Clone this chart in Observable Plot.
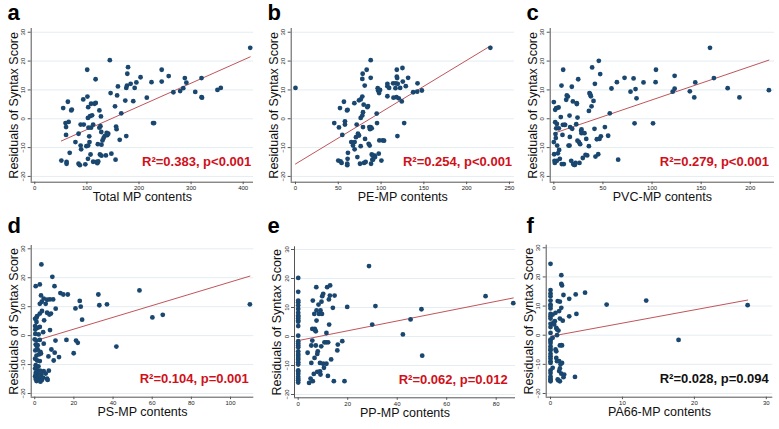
<!DOCTYPE html>
<html><head><meta charset="utf-8">
<script src="https://cdn.jsdelivr.net/npm/d3@7"></script>
<script src="https://cdn.jsdelivr.net/npm/@observablehq/plot@0.6"></script>
<style>
body{margin:0;background:#fff;font-family:"Liberation Sans",Arial,sans-serif;}
#grid{position:relative;width:779px;height:429px;overflow:hidden;}
.panel{position:absolute;}
.panel svg{overflow:visible;}
</style></head><body><div id="grid"></div>
<script>
// ---- data ----
const letters = ["a","b","c","d","e","f"];
const xLabels = ["Total MP contents","PE-MP contents","PVC-MP contents","PS-MP contents","PP-MP contents","PA66-MP contents"];
const statLabels = ["R\u00b2=0.383, p<0.001","R\u00b2=0.254, p<0.001","R\u00b2=0.279, p<0.001","R\u00b2=0.104, p=0.001","R\u00b2=0.062, p=0.012","R\u00b2=0.028, p=0.094"];
const yLabel = "Residuals of Syntax Score";
const yTicks = [-20,-10,0,10,20,30];
const xTicksA = [0,100,200,300,400];
const xTicksB = [0,50,100,150,200,250];
const xTicksC = [0,50,100,150,200];
const xTicksD = [0,20,40,60,80,100];
const xTicksE = [0,20,40,60,80];
const xTicksF = [0,10,20,30];

const aX = [51,54.5,59,60,60,61,61,63.5,65,67,70,71,78,84,84,86.5,88,88,89,93,94,97,99,100.6,101,102,102.5,102.5,103,102,104.5,105,106,108,108,107,110,112,112,114.7,116.7,117,118.6,120,121,121.8,124,124,125,126,127,127.6,128,128,130,132,134,136.5,138,139,141,144,145.5,147,154,155,156,157,158,159.6,163,166,173.7,175.6,175.6,177,177.6,179,184,189,191.7,195,203,215,224,227,229,243.6,243.6,257,266,279,285,288,291,308,320,320,321,350.6,357,413.5];
const aY = [-14.5,3.7,-1.5,-2.9,-5.6,-15,-15.6,5.9,-1.1,-11.8,2.9,3.2,-8.1,-5.2,-15.6,-16.1,-2,-9.3,-10.6,6.7,-2,-15.8,-9.5,17,7.7,0.3,4,-9.3,-3.1,-13.9,-6.1,-8.1,0.9,5.2,-3.1,-12.4,1.2,-2,-14.9,5.2,13.7,5.5,-15,-15.4,-8.8,-14.8,2.9,-3.1,-12.4,-2.6,0.8,-4.6,-9,-12.8,-7.5,-6.7,-6,-12.7,-4.9,-5.7,-5.2,20.3,8.9,-12.1,4.3,-14.2,-2.7,-3.6,8.1,11.2,-7.3,1.9,6.3,-6,10.7,11.5,15.6,17.9,12.1,6.1,10.7,12.6,14.4,7.3,12.7,-1.5,-1.5,17,12.9,14.8,9.2,9.6,10.6,14.1,12.5,9.3,14.1,7.5,7.3,10,10.7,24.6];

const bX = [45.3,50.8,52.0,50.0,52.7,53.9,54.7,56.6,57.8,57.8,60.2,60.9,61.3,60.9,60.5,60.5,65.2,67.2,68.8,69.1,69.1,70.7,71.5,72.3,73.0,74.2,74.2,75.4,76.2,76.2,76.2,78.1,78.5,78.1,78.1,78.9,78.9,79.7,80.1,80.9,81.3,82.0,83.2,84.0,84.8,85.5,86.3,86.7,87.1,87.9,87.9,87.9,88.3,89.1,89.1,89.8,90.2,90.6,91.8,92.6,93.0,94.9,95.3,96.1,96.5,97.3,97.7,98.0,98.8,100.4,102.0,103.5,107.4,107.4,107.4,109.4,114.1,114.5,116.8,117.2,118.0,118.4,118.4,118.8,119.1,119.5,120.7,122.3,124.2,125.0,125.4,127.0,128.9,131.6,137.5,142.2,142.6,147.7,227.7,0];
const bY = [-1.5,-3.0,3.7,-14.5,-14.8,-15.3,-5.6,5.9,-0.9,-2.0,2.9,3.1,-11.8,-13.9,-15.6,-16.1,-8.1,-9.3,5.4,-10.6,-8.1,-6.4,-2.0,-13.3,-5.2,6.4,-5.8,-15.6,-9.5,0.3,6.7,13.8,15.6,7.7,1.1,-2.9,2.3,4.9,-15.3,11.5,-7.0,-15.0,17.0,4.0,4.4,-8.7,-2.9,-9.3,-3.6,20.3,14.2,-2.9,-15.6,-3.3,-12.4,-14.2,-12.7,-14.2,-13.1,-12.8,-13.3,1.8,-1.5,10.6,9.8,-12.1,8.9,-7.5,10.0,-14.5,-7.5,-7.6,7.8,12.1,11.3,10.7,12.3,7.3,10.6,12.3,7.5,17.0,14.6,14.1,-6.0,12.1,7.1,10.7,6.0,17.6,12.9,-1.5,11.3,14.2,9.2,9.4,12.3,9.8,24.6,10.7];

const cX = [0,0,0.3,0.7,1.0,1.4,1.4,1.7,2.0,2.4,2.4,3.1,3.1,3.4,4.1,4.8,5.1,5.4,6.1,7.1,7.8,8.1,8.8,9.2,9.5,10.2,10.9,11.5,12.6,13.2,14.3,15.0,16.0,16.0,16.3,16.6,17.7,18.3,18.7,19.4,19.7,20.7,21.4,22.1,22.8,23.4,23.4,24.1,24.1,24.8,25.5,26.1,26.8,27.8,28.2,28.2,29.5,31.2,32.3,33.0,34.0,35.7,35.7,36.3,37.0,37.7,38.4,39.0,40.4,41.4,41.8,42.4,43.8,45.2,45.8,46.5,47.2,47.9,52.0,55.3,57.0,58.7,64.2,65.5,72.0,78.1,81.2,82.2,83.2,84.2,91.3,101,103.6,104,121,123,123,138.5,143,144,159,163,177,189,219];
const cY = [5.8,-8.1,-12.3,-14.6,-15.3,3.1,-1.2,-5.3,-6.7,3.7,-3.3,-1.8,-14.6,-9.3,-12.0,3.9,-3.3,-10.8,-13.9,0.6,11.5,-15.7,-5.6,-2.1,17.0,-15.7,-2.1,-2.1,6.6,8.1,7.7,-9.3,1.1,-9.3,-6.3,-2.9,-14.6,11.1,-3.5,6.0,-15.7,-16.0,-16.0,-15.3,-1.9,5.4,5.1,0.4,-7.6,13.7,-8.1,-15.3,-8.8,-4.2,-3.7,-5.0,-13.6,-5.0,-12.5,-7.0,-12.7,2.7,-9.5,8.9,8.5,7.8,4.3,17.8,6.2,-3.5,12.1,-13.1,-7.1,-12.3,20.1,-7.0,15.5,-6.1,-2.9,-5.9,1.9,10.5,12.7,-14.2,14.2,9.4,14.0,-1.6,10.3,7.1,12.6,-1.6,12.7,17.0,9.4,10.4,14.9,9.5,7.4,12.6,24.6,14.1,10.6,7.4,9.9];

const dX = [3.4,9.0,0.5,2.6,10.1,13.1,14.6,16.9,3.2,4.6,6.3,7.7,9.4,23.0,32.5,53.5,2.6,3.6,5.6,10.7,20.8,23.5,33,36.9,0.9,0.2,1.2,2.6,3.7,6.3,7.5,8.3,4.8,24.2,60.1,65.4,109.9,0.9,0.2,1.5,2.6,7.8,4.3,0.3,2.0,0,0.9,2.6,10.6,16.2,21.1,22.0,0.5,1.5,4.6,41.7,0.3,1.5,2.9,8.5,10.2,19.9,0.9,2.2,7.0,12.4,0.2,1.2,2.6,9.7,0.5,1.9,0.2,1.2,2.7,4.6,7.2,0.5,1.5,3.4,5.6,0.2,1.2,2.6,4.3,6.3,0.5,1.9,3.6,6.6,0.9,2.9,0.3,1.0,3.2];
const dY = [24.6,20.3,17.1,17.7,17.1,14.7,14.2,14.2,13.9,12.8,12.4,12.5,12.5,12.0,14.2,15.6,11.0,11.7,11.0,9.3,9.4,10.0,10.5,10.8,6.2,5.8,6.7,7.6,8.5,7.9,7.3,7.6,5.3,5.5,6.3,7.2,10.8,4.7,3.3,2.7,3.0,1.9,1.2,0.6,0.4,-1.3,-1.7,-1.5,-1.7,-1.5,-1.7,-2.5,-3.1,-3.3,-2.8,-3.8,-5.1,-4.8,-5.6,-4.8,-5.9,-6.1,-6.9,-6.5,-7.2,-7.4,-8.0,-8.6,-8.8,-8.6,-10.2,-10.6,-11.4,-11.9,-12.1,-12.3,-12.1,-12.9,-13.2,-13.4,-13.1,-14.0,-14.4,-14.4,-14.6,-14.9,-15.0,-15.3,-15.4,-15.3,-15.7,-15.9,2.1,-3.6,-6.2];

const eX = [0,0,0,0,0,0,0,0,0,0,0,0,0,0,0,0,0,0,0,0,0,0,0,0,0,0,0,0,0,0,0,0,28.6,19.8,31.2,29.9,45.4,42.3,49.8,50.1,75.7,86.9,3.8,4.4,5.0,5.3,5.3,5.7,5.7,5.9,5.9,6.3,6.5,6.6,6.7,6.9,7.1,7.1,7.3,7.4,7.4,7.7,7.7,7.9,8.2,8.4,8.8,8.8,9.0,9.0,9.3,9.4,9.6,9.7,10.1,10.1,10.4,10.6,11.3,11.4,11.4,11.7,12.0,12.1,12.4,12.5,12.8,12.9,13.3,14.0,14.4,14.7,15.8,16.0,17.8,18.7];
const eY = [20.2,15.4,12.4,11.8,10.7,9.5,8.2,7.2,6.8,6.2,5.5,5.1,3.6,0.3,-1.6,-2.4,-3.1,-3.7,-5.1,-6.0,-6.6,-7.4,-8.0,-8.9,-9.7,-11.7,-12.2,-12.9,-13.9,-14.6,-15.1,-15.9,24.3,10.2,10.5,4.1,5.9,0.7,9.4,-6.6,13.9,11.5,-5.6,-16.0,-14.5,-3.1,-9.1,-1.4,2.6,12.4,-15.4,-12.9,7.8,-7.4,2.6,2.1,1.8,-3.1,17.0,9.0,5.5,-6.0,-12.2,-5.1,11.0,7.8,-9.1,-12.0,9.0,-13.1,-3.4,12.0,7.8,13.9,14.7,-9.4,-10.8,-2.0,-2.0,1.2,-9.4,17.0,-13.6,-2.0,12.8,4.1,14.1,17.6,-7.9,9.9,-15.4,14.1,-4.8,-2.8,-1.6,-15.4];

const fX = [0,0,0,0,0,0,0,0,0,0,0,0,0,0,0,0,0,0,0,0,0,0,0,0,0,0,0,0,0,0,0,0.3,0.3,0.3,0.4,0.5,0.6,0.7,0.7,0.8,0.8,0.8,0.9,0.9,0.9,1.0,1.0,1.1,1.1,1.2,1.2,1.2,1.3,1.3,1.3,1.3,1.3,1.4,1.5,1.5,1.5,1.5,1.5,1.6,1.6,1.6,1.7,1.8,1.8,1.9,2.6,2.6,3.5,3.6,3.4,4.8,7.8,13.3,17.8,27.4];
const fY = [24.5,15.5,14.3,13.4,11.9,10.5,10.0,9.2,7.3,6.5,5.7,3.9,2.8,0.8,-1.5,-2.0,-2.7,-3.8,-4.7,-5.2,-6.4,-7.2,-8.0,-8.9,-9.5,-12.1,-13.0,-14.2,-14.9,-15.4,-15.8,7.1,-0.9,-11.2,4.3,3.7,4.8,7.7,-4.9,2.5,-5.5,-7.8,0.0,2.0,-8.9,-15.2,11.7,1.6,-15.5,8.3,-8.9,-12.3,5.7,-11.4,-15.8,11.5,-3.5,-10.0,20.6,9.4,-3.4,17.6,-13.2,17.1,-3.5,-9.5,5.0,13.8,-14.4,-13.5,12.5,6.5,14.0,7.3,-14.3,14.6,10.5,11.9,-1.6,10.3];

// ---- layout / style ----
const seriesX = [aX,bX,cX,dX,eX,fX];
const seriesY = [aY,bY,cY,dY,eY,fY];
const xTicks = [xTicksA,xTicksB,xTicksC,xTicksD,xTicksE,xTicksF];
const statColors = ["#d0101a","#d0101a","#d0101a","#d0101a","#d0101a","#111111"];
const cfg = [
  {left:0,   top:0,   h:214, m:[28,7,32.3,30.7],   xd:[-6.9,419.8], yd:[-22,31.3],     sdx:-2.3, sdy:-16, ldy:19.5},
  {left:260, top:0,   h:214, m:[28,6.1,32.3,30.7], xd:[-5,255.8],   yd:[-22,31.3],     sdx:-2.3, sdy:-16, ldy:19.5},
  {left:519, top:0,   h:214, m:[28,5,32.3,30.7],   xd:[-3.7,224.7], yd:[-22,31.3],     sdx:-5.5, sdy:-16, ldy:19.5},
  {left:0,   top:214, h:215, m:[31,6.7,32.3,30.7], xd:[-1.8,111.9], yd:[-21.28,31.14], sdx:-5,   sdy:-14.4, ldy:18.3},
  {left:260, top:214, h:215, m:[32.3,5,31.7,34],   xd:[-1.5,87.8],  yd:[-21.14,30.93], sdx:-7.7, sdy:-14.3, ldy:18.3},
  {left:519, top:214, h:215, m:[30.7,6.7,32.3,26.7], xd:[-0.6,30.9], yd:[-21.27,30.89], sdx:-4,   sdy:-14.4, ldy:18.3}
];

const grid = document.getElementById("grid");
cfg.forEach((c, i) => {
  const data = seriesX[i].map((x, j) => ({x, y: seriesY[i][j]}));
  const [mt, mr, mb, ml] = c.m;
  const chart = Plot.plot({
    width: 260, height: c.h,
    marginTop: mt, marginRight: mr, marginBottom: mb, marginLeft: ml,
    x: {domain: c.xd},
    y: {domain: c.yd},
    style: {fontFamily: "'Liberation Sans', Arial, sans-serif", background: "transparent", color: "#222"},
    marks: [
      Plot.gridY(yTicks, {stroke: "#e4edf1", strokeOpacity: 1}),
      Plot.ruleX([c.xd[0]], {stroke: "#555", strokeWidth: 1}),
      Plot.ruleY([c.yd[0]], {stroke: "#555", strokeWidth: 1}),
      Plot.axisY(yTicks, {tickSize: 3, tickRotate: -90, fontSize: 6, tickPadding: 3, label: null, stroke: "#555"}),
      Plot.axisX(xTicks[i], {tickSize: 2.5, fontSize: 6, tickPadding: 1, label: null, stroke: "#555"}),
      Plot.linearRegressionY(data, {x: "x", y: "y", stroke: "#c0555b", strokeWidth: 1, ci: 0}),
      Plot.dot(data, {x: "x", y: "y", r: 2.4, fill: "#1a476f", stroke: null}),
      Plot.text([yLabel], {text: d => d, frameAnchor: "left", textAnchor: "middle", lineAnchor: "middle", rotate: -90, dx: -17.5, fontSize: 12.5, fill: "#111"}),
      Plot.text([xLabels[i]], {text: d => d, frameAnchor: "bottom", textAnchor: "middle", dy: 15, lineAnchor: "middle", fontSize: 12.5, fill: "#111"}),
      Plot.text([statLabels[i]], {text: d => d, frameAnchor: "bottom-right", textAnchor: "end", lineAnchor: "bottom", dx: c.sdx, dy: c.sdy, fontSize: 13, fontWeight: "bold", fill: statColors[i]}),
      Plot.text([letters[i]], {text: d => d, frameAnchor: "top-left", textAnchor: "start", lineAnchor: "bottom", dx: 7 - ml, dy: c.ldy - mt, fontSize: 22, fontWeight: "bold", fill: "#000"})
    ]
  });
  const div = document.createElement("div");
  div.className = "panel";
  div.style.left = c.left + "px";
  div.style.top = c.top + "px";
  div.appendChild(chart);
  grid.appendChild(div);
});
</script></body></html>
